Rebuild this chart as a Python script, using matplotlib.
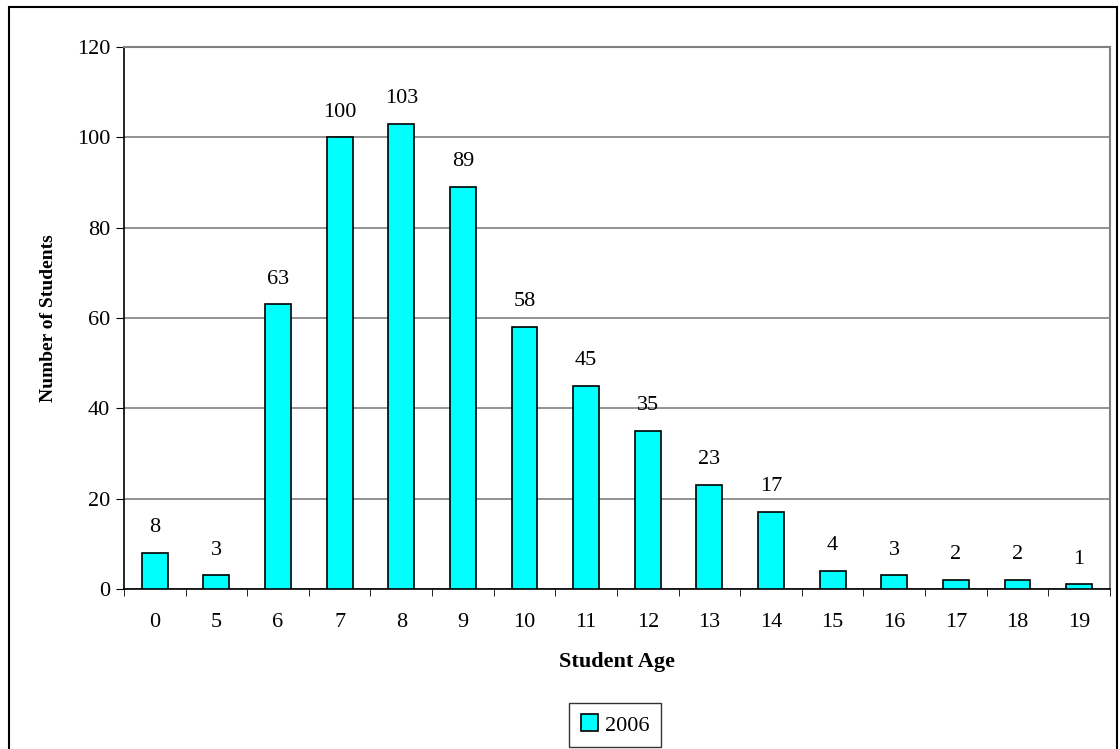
import matplotlib.pyplot as plt
import numpy as np
from matplotlib.patches import Rectangle

ages = ['0', '5', '6', '7', '8', '9', '10', '11', '12', '13', '14', '15', '16', '17', '18', '19']
students = [8, 3, 63, 100, 103, 89, 58, 45, 35, 23, 17, 4, 3, 2, 2, 1]
yticks = [0, 20, 40, 60, 80, 100, 120]

plt.rcParams['font.family'] = ['Liberation Serif', 'DejaVu Serif']

fig = plt.figure(figsize=(11.2, 7.49), dpi=100)
ax = fig.add_axes([0.1107, 0.2136, 0.8803, 0.7236])

x = np.arange(len(ages))
bars = ax.bar(x, students, width=0.42, color='#00FFFF', edgecolor='black', linewidth=1.2,
              label='2006', zorder=3)
for xi, v in zip(x, students):
    ax.text(xi, v + 3.5, str(v), ha='center', va='bottom', fontsize=16)

ax.set_xlim(-0.5, len(ages) - 0.5)
ax.set_ylim(0, 120)
ax.set_yticks(yticks)
ax.set_yticklabels([str(t) for t in yticks], fontsize=16)
ax.set_xticks(x)
ax.set_xticklabels(ages, fontsize=16)
ax.tick_params(axis='x', length=0, pad=17.5)
ax.set_xticks(np.arange(-0.5, len(ages)), minor=True)
ax.tick_params(axis='x', which='minor', length=5, direction='out', color='black')
ax.tick_params(axis='y', length=6, direction='out', pad=4)
ax.yaxis.grid(True, color='#808080', linewidth=1.2, zorder=0)

for s in ['top', 'right']:
    ax.spines[s].set_color('#808080')
    ax.spines[s].set_linewidth(1.5)
for s in ['left', 'bottom']:
    ax.spines[s].set_color('black')
    ax.spines[s].set_linewidth(1.2)

ax.set_xlabel('Student Age', fontsize=16, fontweight='bold', labelpad=14)
ax.set_ylabel('Number of Students', fontsize=14, fontweight='bold', labelpad=14)

leg = fig.legend(handles=[bars], labels=['2006'], loc='center', bbox_to_anchor=(615 / 1120, 1 - 725 / 749),
                 fontsize=16, frameon=True, fancybox=False, edgecolor='black', handlelength=0.8,
                 handleheight=0.8, handletextpad=0.3, borderpad=0.5)
leg.get_frame().set_linewidth(1.0)

fig.patches.append(Rectangle((9 / 1120, -0.01), 1108 / 1120, 1 - 7 / 749 + 0.01, transform=fig.transFigure,
                             fill=False, edgecolor='black', linewidth=1.5))

fig.savefig('out.png', dpi=100)
